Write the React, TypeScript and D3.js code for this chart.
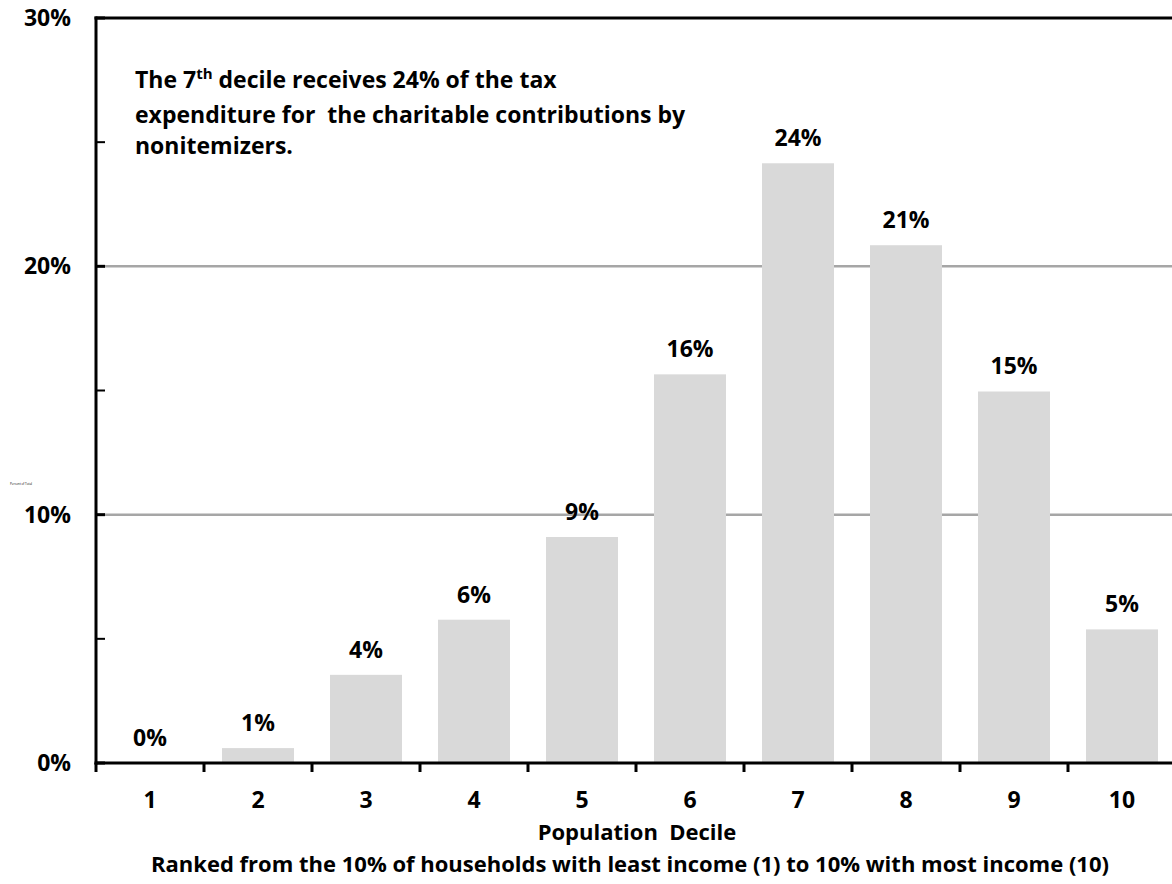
import React from "react";
import * as d3 from "d3";

const deciles = ["1", "2", "3", "4", "5", "6", "7", "8", "9", "10"];
const shares = [0.0, 0.6, 3.55, 5.77, 9.1, 15.65, 24.15, 20.85, 14.96, 5.38];
const valueLabels = ["0%", "1%", "4%", "6%", "9%", "16%", "24%", "21%", "15%", "5%"];
const majorTicks = [0, 10, 20, 30];
const minorTicks = [5, 15, 25];
const gridTicks = [10, 20];

const W = 1172;
const H = 884;
const FONT = "'Open Sans', 'Noto Sans', sans-serif";
const FS = 23;
const FS_TITLE = 22;

export default function App() {
  const x = d3
    .scaleBand<string>()
    .domain(deciles)
    .range([96, 1176])
    .paddingInner(1 / 3)
    .paddingOuter(1 / 6);
  const y = d3.scaleLinear().domain([0, 30]).range([763, 18]);
  const step = x.step();
  const left = 96;
  const right = 1176;

  return (
    <svg
      width={W}
      height={H}
      style={{ position: "absolute", left: 0, top: 0, background: "#fff" }}
      fontFamily={FONT}
      fontWeight="bold"
    >
      {gridTicks.map((t) => (
        <line key={"g" + t} x1={left + 8} x2={right} y1={y(t)} y2={y(t)} stroke="#a6a6a6" strokeWidth={2.5} />
      ))}
      {deciles.map((d, i) => (
        <rect
          key={"b" + d}
          x={x(d)!}
          y={y(shares[i])}
          width={x.bandwidth()}
          height={y(0) - y(shares[i])}
          fill="#d9d9d9"
        />
      ))}
      {deciles.map((d, i) => (
        <text
          key={"v" + d}
          x={x(d)! + x.bandwidth() / 2}
          y={y(shares[i]) - 17}
          textAnchor="middle"
          fontSize={FS}
          fill="#000"
        >
          {valueLabels[i]}
        </text>
      ))}
      <line x1={left - 1.5} x2={right} y1={y(30)} y2={y(30)} stroke="#000" strokeWidth={3} />
      <line x1={left} x2={left} y1={y(30) - 1.5} y2={y(0) + 1.5} stroke="#000" strokeWidth={3} />
      {majorTicks.map((t) => (
        <g key={"yt" + t}>
          <line x1={left} x2={left + 9} y1={y(t)} y2={y(t)} stroke="#000" strokeWidth={3} />
          <text x={71} y={y(t)} dy="0.35em" textAnchor="end" fontSize={FS} fill="#000">
            {t + "%"}
          </text>
        </g>
      ))}
      {minorTicks.map((t) => (
        <line key={"mt" + t} x1={left} x2={left + 9} y1={y(t)} y2={y(t)} stroke="#000" strokeWidth={2} />
      ))}
      <line x1={left - 1.5} x2={right} y1={y(0)} y2={y(0)} stroke="#000" strokeWidth={3} />
      {d3.range(0, 11).map((k) => (
        <line
          key={"xt" + k}
          x1={left + k * step}
          x2={left + k * step}
          y1={y(0)}
          y2={y(0) + 9}
          stroke="#000"
          strokeWidth={3}
        />
      ))}
      {deciles.map((d) => (
        <text
          key={"xl" + d}
          x={x(d)! + x.bandwidth() / 2}
          y={800}
          dy="0.35em"
          textAnchor="middle"
          fontSize={FS}
          fill="#000"
        >
          {d}
        </text>
      ))}
      <text x={637} y={832} dy="0.35em" textAnchor="middle" fontSize={FS_TITLE} fill="#000" xmlSpace="preserve">
        Population  Decile
      </text>
      <text x={630} y={864} dy="0.35em" textAnchor="middle" fontSize={FS_TITLE} fill="#000">
        Ranked from the 10% of households with least income (1) to 10% with most income (10)
      </text>
      <text x={10} y={485} fontSize={3} fontWeight="normal" fill="#000">
        Percent of Total
      </text>
      <text x={135} y={88} fontSize={FS} fill="#000" xmlSpace="preserve">
        <tspan>The 7</tspan>
        <tspan fontSize={15} dy={-9}>th</tspan>
        <tspan dy={9}> decile receives 24% of the tax</tspan>
      </text>
      <text x={135} y={123} fontSize={FS} fill="#000" xmlSpace="preserve">
        expenditure for  the charitable contributions by
      </text>
      <text x={135} y={154} fontSize={FS} fill="#000">
        nonitemizers.
      </text>
    </svg>
  );
}
